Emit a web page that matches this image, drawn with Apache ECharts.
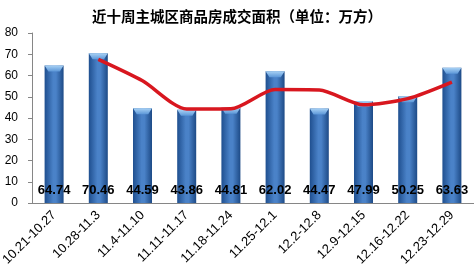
<!DOCTYPE html>
<html><head><meta charset="utf-8">
<script src="https://cdn.jsdelivr.net/npm/echarts@6/dist/echarts.min.js"></script>
<style>html,body{margin:0;padding:0;background:#fff}#c{width:474px;height:266px}</style>
</head><body><div id="c"></div>
<script>
var categories = ['10.21-10.27','10.28-11.3','11.4-11.10','11.11-11.17','11.18-11.24','11.25-12.1','12.2-12.8','12.9-12.15','12.16-12.22','12.23-12.29'];
var areaValues = [64.74, 70.46, 44.59, 43.86, 44.81, 62.02, 44.47, 47.99, 50.25, 63.63];
var trendValues = [null, 67.6, 57.5, 44.2, 44.3, 53.4, 53.2, 46.2, 49.1, 56.9];
var yTicks = [0, 10, 20, 30, 40, 50, 60, 70, 80];

var chart = echarts.init(document.getElementById('c'), null, {renderer:'canvas'});
chart.setOption({
  animation:false,
  title:{text:'近十周主城区商品房成交面积（单位：万方）', left:'center', top:4,
    textStyle:{fontFamily:'Noto Sans CJK SC', fontSize:14.5, fontWeight:'bold', color:'#000'}},
  grid:{left:32, right:0, top:33, bottom:63, containLabel:false, outerBoundsMode:'none'},
  xAxis:{type:'category', data:categories,
    axisLine:{lineStyle:{color:'#868686'}},
    axisTick:{alignWithLabel:false, length:4, lineStyle:{color:'#868686'}},
    axisLabel:{rotate:45, interval:0, margin:10, color:'#000', fontFamily:'Liberation Sans', fontSize:13, hideOverlap:false}},
  yAxis:{type:'value', min:yTicks[0], max:yTicks[yTicks.length-1], interval:10,
    axisLine:{show:true, lineStyle:{color:'#868686'}},
    axisTick:{show:true, length:4, lineStyle:{color:'#868686'}},
    splitLine:{show:false},
    axisLabel:{margin:14, color:'#000', fontFamily:'Liberation Sans', fontSize:12}},
  series:[
    {type:'bar', data:areaValues, barWidth:19, barGap:'-100%',
      itemStyle:{color:new echarts.graphic.LinearGradient(0,0,1,0,[
        {offset:0,color:'#1f4f8f'},{offset:0.45,color:'#4a82c8'},{offset:0.6,color:'#4a82c8'},{offset:1,color:'#1d4a86'}])},
      label:{show:true, position:'insideBottom', distance:6, color:'#000', fontFamily:'Liberation Sans', fontSize:13, fontWeight:'bold',
        formatter:function(p){return p.value.toFixed(2);}}, z:2},
    {type:'pictorialBar', data:areaValues, barWidth:19, barGap:'-100%', symbolPosition:'end',
      symbol:'path://M0,0 L20,0 L16,6 L4,6 Z', symbolSize:[19,6], symbolRepeat:false,
      itemStyle:{color:new echarts.graphic.LinearGradient(0,0,0,1,[{offset:0,color:'#a9d2f5'},{offset:1,color:'#5c97d8'}])},
      z:3, silent:true},
    {type:'line', data:trendValues, showSymbol:false, symbol:'none', smooth:0.25, connectNulls:false,
      lineStyle:{color:'#d8171f', width:3.5}, z:5}
  ]
});
</script></body></html>
